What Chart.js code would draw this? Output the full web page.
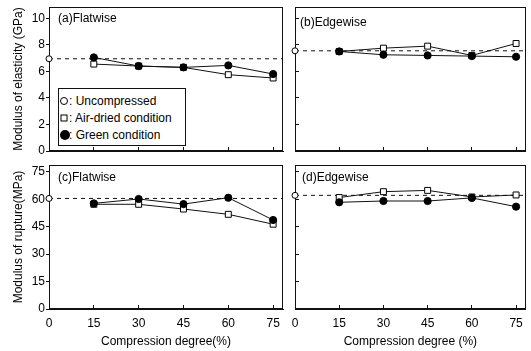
<!DOCTYPE html>
<html>
<head>
<meta charset="utf-8">
<title>Modulus of elasticity and rupture vs compression degree</title>
<script src="https://cdn.jsdelivr.net/npm/chart.js@4.4.1/dist/chart.umd.min.js"></script>
<style>
  body { margin: 0; background: #fff; }
  #wrap { position: relative; width: 531px; height: 351px; font-family: "Liberation Sans", Arial, sans-serif; color: #000; }
  #wrap canvas { position: absolute; left: 0; top: 0; }
  .plabel { position: absolute; font-size: 12px; line-height: 14px; white-space: nowrap; z-index: 2; }
  #legend { position: absolute; left: 58px; top: 88px; width: 128px; height: 58px; box-sizing: border-box;
            border: 1px solid #111; background: #fff; font-size: 12px; z-index: 2; }
  #legend .row { position: absolute; left: 0; width: 100%; height: 16px; }
  #legend .sym { position: absolute; top: 50%; transform: translate(-50%, -50%); box-sizing: border-box; }
  #legend .open { left: 5px; width: 8px; height: 8px; border: 1px solid #000; border-radius: 50%; }
  #legend .sq { left: 5px; width: 7px; height: 7px; border: 1px solid #000; }
  #legend .fill { left: 6px; width: 10px; height: 10px; border-radius: 50%; background: #000; }
  #legend .txt { position: absolute; left: 10px; top: 0; line-height: 16px; white-space: nowrap; }
</style>
</head>
<body>
<div id="wrap">
  <canvas id="chartA" width="531" height="351"></canvas>
  <canvas id="chartB" width="531" height="351"></canvas>
  <canvas id="chartC" width="531" height="351"></canvas>
  <canvas id="chartD" width="531" height="351"></canvas>

  <div class="plabel" style="left:58px;top:11px">(a)Flatwise</div>
  <div class="plabel" style="left:300px;top:15px">(b)Edgewise</div>
  <div class="plabel" style="left:58px;top:170px">(c)Flatwise</div>
  <div class="plabel" style="left:302px;top:170px">(d)Edgewise</div>

  <div id="legend">
    <div class="row" style="top:4px"><span class="sym open"></span><span class="txt">: Uncompressed</span></div>
    <div class="row" style="top:21px"><span class="sym sq"></span><span class="txt">: Air-dried condition</span></div>
    <div class="row" style="top:38px"><span class="sym fill"></span><span class="txt">: Green condition</span></div>
  </div>
</div>

<script>
// compression degree (%)
const degree = [15, 30, 45, 60, 75];
const degreeTicks = [0, 15, 30, 45, 60, 75];
const moeTicks = [0, 2, 4, 6, 8, 10];
const morTicks = [0, 15, 30, 45, 60, 75];

// modulus of elasticity (GPa)
const moeFlatUncompressed = 6.95;
const moeFlatAirDried = [6.55, 6.4, 6.3, 5.75, 5.5];
const moeFlatGreen = [7.05, 6.4, 6.3, 6.45, 5.8];
const moeEdgeUncompressed = 7.55;
const moeEdgeAirDried = [7.5, 7.75, 7.9, 7.2, 8.1];
const moeEdgeGreen = [7.5, 7.25, 7.2, 7.15, 7.1];

// modulus of rupture (MPa)
const morFlatUncompressed = 60.5;
const morFlatAirDried = [57.3, 57.3, 54.7, 51.8, 46.4];
const morFlatGreen = [57.8, 60.2, 57.4, 60.9, 48.7];
const morEdgeUncompressed = 62.2;
const morEdgeAirDried = [61, 64.2, 64.9, 61.3, 62.4];
const morEdgeGreen = [58.4, 59.1, 59.1, 60.8, 56];

const FONT = { family: '"Liberation Sans", Arial, sans-serif', size: 12 };
const INK = '#111';

// box around the plot + dashed line at the uncompressed level
const framePlugin = {
  id: 'frame',
  beforeDatasetsDraw(chart, args, opts) {
    const { ctx, chartArea: a, scales: { y } } = chart;
    ctx.save();
    ctx.strokeStyle = INK;
    ctx.lineWidth = 1;
    ctx.strokeRect(Math.round(a.left) + 0.5, Math.round(a.top) + 0.5,
                   Math.round(a.width) - 1, Math.round(a.height) - 1);
    const py = y.getPixelForValue(opts.level);
    ctx.setLineDash([4, 4]);
    ctx.beginPath();
    ctx.moveTo(a.left, py);
    ctx.lineTo(a.right, py);
    ctx.stroke();
    ctx.restore();
  }
};

const pts = vals => degree.map((d, i) => ({ x: d, y: vals[i] }));

function makePanel(id, p) {
  new Chart(document.getElementById(id), {
    type: 'line',
    data: {
      datasets: [
        {
          data: pts(p.green),
          borderColor: INK, borderWidth: 1,
          pointStyle: 'circle', pointRadius: 3.6,
          pointBackgroundColor: '#000', pointBorderColor: '#000', pointBorderWidth: 1,
          clip: false
        },
        {
          data: pts(p.air),
          borderColor: INK, borderWidth: 1,
          pointStyle: 'rect', pointRadius: 4.2,
          pointBackgroundColor: '#fff', pointBorderColor: '#000', pointBorderWidth: 1,
          clip: false
        },
        {
          data: [{ x: 0, y: p.uncompressed }],
          showLine: false,
          pointStyle: 'circle', pointRadius: 3,
          pointBackgroundColor: '#fff', pointBorderColor: '#000', pointBorderWidth: 1,
          clip: false
        }
      ]
    },
    options: {
      responsive: false,
      animation: false,
      events: [],
      layout: { padding: p.pad },
      plugins: {
        legend: { display: false },
        tooltip: { enabled: false },
        frame: { level: p.uncompressed }
      },
      scales: {
        x: {
          type: 'linear', min: 0, max: 78.3,
          afterBuildTicks: s => { s.ticks = degreeTicks.map(v => ({ value: v })); },
          ticks: { display: p.showX, color: '#000', font: FONT, padding: 11, maxRotation: 0, autoSkip: false },
          grid: { drawOnChartArea: false, tickLength: -4, color: INK },
          border: { color: INK },
          title: { display: !!p.xTitle, text: p.xTitle || '', color: '#000', font: FONT, padding: { top: 0, bottom: 0 } },
          afterFit: s => { s.height = p.xHeight; s.paddingLeft = 0; s.paddingRight = 0; }
        },
        y: {
          type: 'linear', min: 0, max: p.yMax,
          afterBuildTicks: s => { s.ticks = p.yTicks.map(v => ({ value: v })); },
          ticks: { display: p.showY, color: '#000', font: FONT, padding: 1 },
          grid: { drawOnChartArea: false, tickLength: p.showY ? 3 : -4, color: INK },
          border: { color: INK },
          title: { display: !!p.yTitle, text: p.yTitle || '', color: '#000', font: FONT, padding: { top: 11, bottom: 0 } },
          afterFit: s => { s.width = p.yWidth; s.paddingTop = 0; s.paddingBottom = 0; }
        }
      }
    },
    plugins: [framePlugin]
  });
}

makePanel('chartA', {
  pad: { left: 0, top: 7, right: 248, bottom: 190 }, yWidth: 49, xHeight: 10,
  yMax: 10.85, yTicks: moeTicks, showY: true, yTitle: 'Modulus of elasticity (GPa)', showX: false,
  uncompressed: moeFlatUncompressed, air: moeFlatAirDried, green: moeFlatGreen
});
makePanel('chartB', {
  pad: { left: 285, top: 7, right: 2, bottom: 190 }, yWidth: 10, xHeight: 10,
  yMax: 10.85, yTicks: moeTicks, showY: false, showX: false,
  uncompressed: moeEdgeUncompressed, air: moeEdgeAirDried, green: moeEdgeGreen
});
makePanel('chartC', {
  pad: { left: 0, top: 165, right: 248, bottom: 2 }, yWidth: 49, xHeight: 40,
  yMax: 78.8, yTicks: morTicks, showY: true, yTitle: 'Modulus of rupture(MPa)',
  showX: true, xTitle: 'Compression degree(%)',
  uncompressed: morFlatUncompressed, air: morFlatAirDried, green: morFlatGreen
});
makePanel('chartD', {
  pad: { left: 285, top: 165, right: 2, bottom: 2 }, yWidth: 10, xHeight: 40,
  yMax: 78.8, yTicks: morTicks, showY: false,
  showX: true, xTitle: 'Compression degree (%)',
  uncompressed: morEdgeUncompressed, air: morEdgeAirDried, green: morEdgeGreen
});
</script>
</body>
</html>
